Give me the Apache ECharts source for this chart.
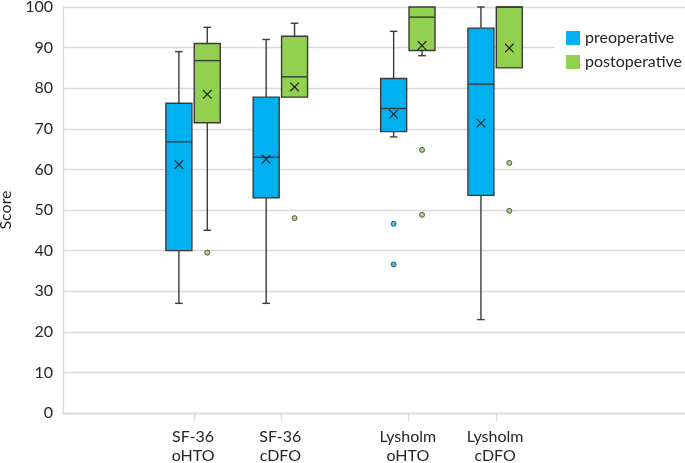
<!DOCTYPE html>
<html>
<head>
<meta charset="utf-8">
<script src="https://cdn.jsdelivr.net/npm/echarts@6/dist/echarts.min.js"></script>
<style>
html,body{margin:0;padding:0;background:#fff;}
#chart{width:685px;height:463px;}
</style>
</head>
<body>
<div id="chart"></div>
<script>
// ---- data ----
const categories = ['SF-36\noHTO', 'SF-36\ncDFO', 'Lysholm\noHTO', 'Lysholm\ncDFO'];
const seriesNames = ['preoperative', 'postoperative'];

const preMin    = [27, 27, 68, 23];
const preQ1     = [40, 53, 69.3, 53.6];
const preMedian = [66.8, 63, 75, 81];
const preQ3     = [76.3, 77.8, 82.4, 94.8];
const preMax    = [89, 92, 94, 100];
const preMean   = [61.2, 62.5, 73.6, 71.4];
const preOutliers = [[], [], [46.6, 36.6], []];

const postMin    = [45, 77.8, 88, 85];
const postQ1     = [71.5, 77.8, 89.3, 85];
const postMedian = [86.8, 82.8, 97.5, 100];
const postQ3     = [91, 92.8, 100, 100];
const postMax    = [95, 96, 100, 100];
const postMean   = [78.5, 80.3, 90.5, 89.9];
const postOutliers = [[39.5], [48], [64.8, 48.8], [61.6, 49.8]];

const yTicks = [0, 10, 20, 30, 40, 50, 60, 70, 80, 90, 100];

// ---- layout ----
const groupPos = [2.98, 4.98, 7.9, 9.9];
const xMax = 14.25;
const pairOffset = 0.325;
const colors = ['#00B0F0', '#92D050'];
const edge = '#3a3a3a';
const FONT = 'Lato, "Open Sans", sans-serif';
const textColor = '#262626';

function boxData(mins, q1s, meds, q3s, maxs, means, sign) {
  return categories.map((c, i) => [groupPos[i] + sign * pairOffset, mins[i], q1s[i], meds[i], q3s[i], maxs[i], means[i]]);
}
function outlierData(outs, sign) {
  const r = [];
  outs.forEach((list, i) => list.forEach(v => r.push([groupPos[i] + sign * pairOffset, v])));
  return r;
}

function renderBox(params, api) {
  const x = api.value(0);
  const vMin = api.value(1), vQ1 = api.value(2), vMed = api.value(3), vQ3 = api.value(4), vMax = api.value(5), vMean = api.value(6);
  const pMin = api.coord([x, vMin]);
  const pQ1 = api.coord([x, vQ1]);
  const pMed = api.coord([x, vMed]);
  const pQ3 = api.coord([x, vQ3]);
  const pMax = api.coord([x, vMax]);
  const pMean = api.coord([x, vMean]);
  const cx = pQ1[0];
  const hw = 13, cap = 3.8, xs = 4.3;
  const fill = api.visual('color');
  const lineStyle = { stroke: edge, lineWidth: 1.4 };
  const children = [];
  if (vMax > vQ3) {
    children.push({ type: 'line', shape: { x1: cx, y1: pMax[1], x2: cx, y2: pQ3[1] }, style: lineStyle });
    children.push({ type: 'line', shape: { x1: cx - cap, y1: pMax[1], x2: cx + cap, y2: pMax[1] }, style: lineStyle });
  }
  if (vMin < vQ1) {
    children.push({ type: 'line', shape: { x1: cx, y1: pQ1[1], x2: cx, y2: pMin[1] }, style: lineStyle });
    children.push({ type: 'line', shape: { x1: cx - cap, y1: pMin[1], x2: cx + cap, y2: pMin[1] }, style: lineStyle });
  }
  children.push({ type: 'rect', shape: { x: cx - hw, y: pQ3[1], width: hw * 2, height: pQ1[1] - pQ3[1] },
    style: { fill: fill, stroke: edge, lineWidth: 1.4 } });
  children.push({ type: 'line', shape: { x1: cx - hw, y1: pMed[1], x2: cx + hw, y2: pMed[1] }, style: lineStyle });
  children.push({ type: 'line', shape: { x1: cx - xs, y1: pMean[1] - xs, x2: cx + xs, y2: pMean[1] + xs }, style: { stroke: '#222', lineWidth: 1.2 } });
  children.push({ type: 'line', shape: { x1: cx - xs, y1: pMean[1] + xs, x2: cx + xs, y2: pMean[1] - xs }, style: { stroke: '#222', lineWidth: 1.2 } });
  return { type: 'group', children: children };
}

const chart = echarts.init(document.getElementById('chart'));
chart.setOption({
  animation: false,
  textStyle: { fontFamily: FONT },
  grid: { left: 63, right: 0, top: 7, bottom: 50, containLabel: false, outerBoundsMode: 'none' },
  legend: {
    orient: 'vertical',
    left: 555, top: 27,
    padding: [3, 4, 3, 11],
    backgroundColor: '#fff',
    itemWidth: 14, itemHeight: 14, itemGap: 8,
    textStyle: { fontSize: 16, color: textColor, fontFamily: FONT },
    data: [{ name: seriesNames[0], icon: 'rect' }, { name: seriesNames[1], icon: 'rect' }]
  },
  xAxis: {
    type: 'value', min: 0, max: xMax,
    splitLine: { show: false },
    axisLine: { show: true, lineStyle: { color: '#d9d9d9', width: 1.3 } },
    axisTick: { show: true, customValues: groupPos.map(p => p + 0.02), length: 8, lineStyle: { color: '#d9d9d9', width: 1.3 } },
    axisLabel: {
      customValues: groupPos,
      formatter: function (v) {
        const i = groupPos.findIndex(p => Math.abs(p - v) < 1e-6);
        return i >= 0 ? categories[i] : '';
      },
      fontSize: 16, lineHeight: 19, color: textColor, margin: 14
    }
  },
  yAxis: {
    type: 'value', min: 0, max: 100, interval: 10,
    name: 'Score', nameLocation: 'middle', nameGap: 45,
    nameTextStyle: { fontSize: 16, color: textColor },
    axisLine: { show: true, lineStyle: { color: '#d9d9d9', width: 1.3 } },
    axisTick: { show: false },
    axisLabel: { fontSize: 16, color: textColor, margin: 10,
      formatter: function (v) { return yTicks.indexOf(v) >= 0 ? String(v) : ''; } },
    splitLine: { show: true, lineStyle: { color: '#d9d9d9', width: 1.3 } }
  },
  series: [
    {
      name: seriesNames[0], type: 'custom', itemStyle: { color: colors[0] },
      renderItem: renderBox, encode: { x: 0, y: [1, 2, 3, 4, 5] },
      data: boxData(preMin, preQ1, preMedian, preQ3, preMax, preMean, -1), z: 3
    },
    {
      name: seriesNames[1], type: 'custom', itemStyle: { color: colors[1] },
      renderItem: renderBox, encode: { x: 0, y: [1, 2, 3, 4, 5] },
      data: boxData(postMin, postQ1, postMedian, postQ3, postMax, postMean, 1), z: 3
    },
    {
      name: seriesNames[0], type: 'scatter', symbol: 'circle', symbolSize: 5,
      itemStyle: { color: colors[0], borderColor: edge, borderWidth: 1 },
      data: outlierData(preOutliers, -1), z: 4
    },
    {
      name: seriesNames[1], type: 'scatter', symbol: 'circle', symbolSize: 5,
      itemStyle: { color: colors[1], borderColor: edge, borderWidth: 1 },
      data: outlierData(postOutliers, 1), z: 4
    }
  ]
});
</script>
</body>
</html>
